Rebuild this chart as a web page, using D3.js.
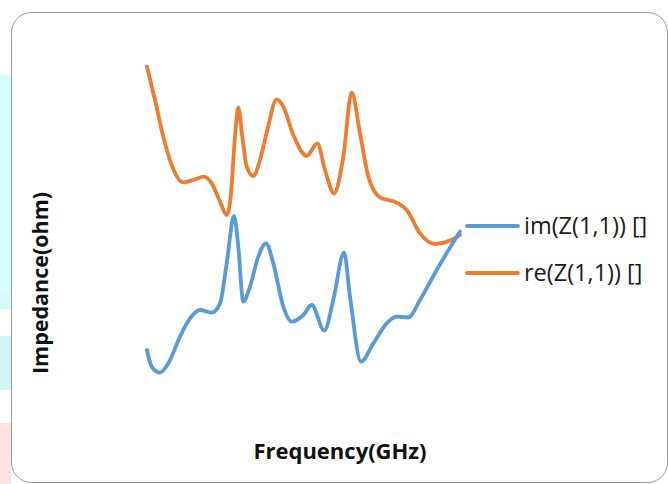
<!DOCTYPE html>
<html>
<head>
<meta charset="utf-8">
<script src="https://cdn.jsdelivr.net/npm/d3@7"></script>
<style>
  html, body { margin: 0; padding: 0; background: #fff; }
  svg { display: block; }
</style>
</head>
<body>
<div id="chart"></div>
<script>
// im(Z(1,1)) samples: frequency (GHz) and impedance (ohm)
const imFreq = [0, 0.47, 1.3, 2.13, 3.3, 4.3, 5.3, 6.47, 7.3, 7.97, 8.7, 9.13, 9.63, 10.3, 11.13, 11.9,
    12.63, 13.63, 14.47, 15.63, 16.47, 17.73, 18.63, 19.7, 20.3, 21.4, 22.63, 23.97, 24.97, 26.13, 27.3, 28.97, 31.3];
const imVals = [25, 16.7, 13.7, 18.3, 31.7, 40.8, 45, 43.7, 48.3, 68.3, 92, 76.7, 49.2, 56.7, 71.7, 78.3,
    68.3, 46.7, 39.2, 42.5, 47.5, 34.7, 50, 73.7, 51.7, 19.2, 28.3, 38.3, 41.7, 41.3, 50, 65, 84.2];

// re(Z(1,1)) samples
const reFreq = [0, 0.8, 1.63, 2.47, 3.63, 4.8, 5.7, 6.47, 7.3, 7.97, 8.37, 8.8, 9.13, 9.53, 9.97, 10.63,
    11.3, 12.03, 12.97, 13.63, 14.63, 15.97, 17.03, 17.8, 18.7, 19.63, 20.47, 21.3, 22.13, 23.3, 24.97,
    25.97, 27.3, 28.8, 30.3, 31.3];
const reVals = [166.7, 150, 131.7, 117.5, 108.8, 110.3, 111.7, 108.3, 99.2, 92.5, 101.7, 131.7, 146.3, 131.7,
    116.7, 112, 120, 135, 150.3, 146.7, 132.5, 122, 128.3, 115, 103.3, 121.7, 153.7, 133.3, 111.7, 101.3,
    98.7, 95, 83.3, 78, 79.7, 82.5];

const seriesNames = ["im(Z(1,1)) []", "re(Z(1,1)) []"];
const seriesColors = ["#5b9bd5", "#ed7d31"];

const width = 668, height = 484;

const svg = d3.select("#chart").append("svg")
    .attr("width", width)
    .attr("height", height);

// faint page decorations at the left edge, outside the frame
const strips = [
    { y0: 75, y1: 293, c: "#d5fdfd" },
    { y0: 293, y1: 309, c: "#d6f8fb" },
    { y0: 336, y1: 390, c: "#d7f3fa" },
    { y0: 423, y1: 484, c: "#fde4e4" }
];
svg.selectAll("rect.strip")
    .data(strips)
    .enter().append("rect")
    .attr("class", "strip")
    .attr("x", 0)
    .attr("width", 11)
    .attr("y", d => d.y0)
    .attr("height", d => d.y1 - d.y0)
    .attr("fill", d => d.c);

// chart frame
svg.append("rect")
    .attr("x", 11.5)
    .attr("y", 12.5)
    .attr("width", 656)
    .attr("height", 470)
    .attr("rx", 20)
    .attr("fill", "#fff")
    .attr("stroke", "#9a9a9a")
    .attr("stroke-width", 1);

const x = d3.scaleLinear().domain([0, 31.3]).range([147, 460]);
const y = d3.scaleLinear().domain([0, 170]).range([400, 60]);

const line = d3.line()
    .x(d => x(d[0]))
    .y(d => y(d[1]))
    .curve(d3.curveMonotoneX);

const series = [
    d3.zip(imFreq, imVals),
    d3.zip(reFreq, reVals)
];

// draw re first, im on top
[1, 0].forEach(i => {
    svg.append("path")
        .datum(series[i])
        .attr("d", line)
        .attr("fill", "none")
        .attr("stroke", seriesColors[i])
        .attr("stroke-width", 3.8)
        .attr("stroke-linejoin", "round")
        .attr("stroke-linecap", "round");
});

// legend
const legend = svg.append("g");
seriesNames.forEach((name, i) => {
    const ly = 226 + i * 47;
    legend.append("line")
        .attr("x1", 467).attr("x2", 518)
        .attr("y1", ly).attr("y2", ly)
        .attr("stroke", seriesColors[i])
        .attr("stroke-width", 3.8)
        .attr("stroke-linecap", "round");
    legend.append("text")
        .attr("x", 524)
        .attr("y", ly + 8)
        .attr("font-family", "'Open Sans', sans-serif")
        .attr("font-size", 23.5)
        .attr("fill", "#1a1a1a")
        .text(name);
});

// axis titles
svg.append("text")
    .attr("transform", "translate(48,283) rotate(-90)")
    .attr("text-anchor", "middle")
    .attr("font-family", "'Open Sans', sans-serif")
    .attr("font-weight", "bold")
    .attr("font-size", 21.5)
    .attr("fill", "#111")
    .text("Impedance(ohm)");

svg.append("text")
    .attr("x", 340)
    .attr("y", 459)
    .attr("text-anchor", "middle")
    .attr("font-family", "'Open Sans', sans-serif")
    .attr("font-weight", "bold")
    .attr("font-size", 22)
    .attr("fill", "#111")
    .text("Frequency(GHz)");
</script>
</body>
</html>
